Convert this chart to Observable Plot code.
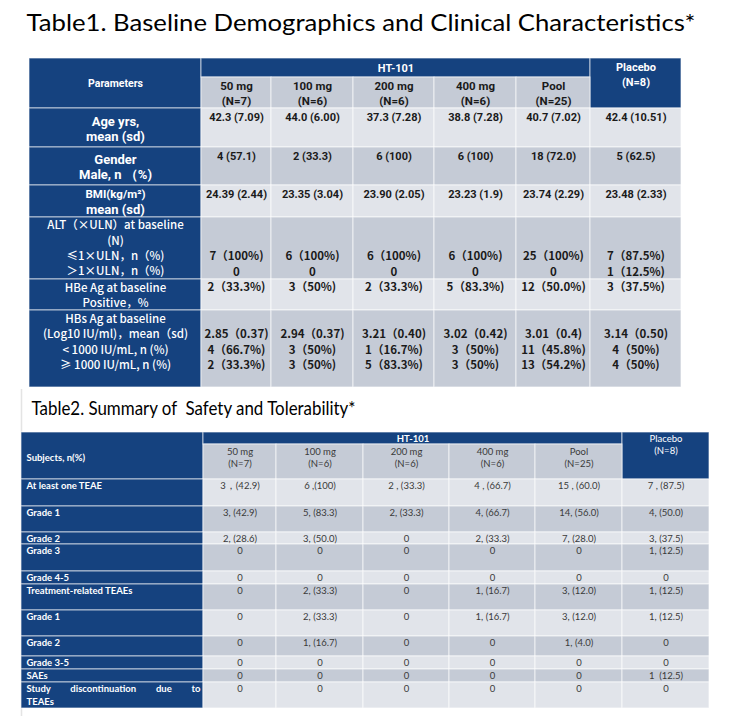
<!DOCTYPE html>
<html>
<head>
<meta charset="utf-8">
<script src="https://cdn.jsdelivr.net/npm/d3@7"></script>
<script src="https://cdn.jsdelivr.net/npm/@observablehq/plot@0.6"></script>
<style>
  html, body { margin: 0; padding: 0; background: #ffffff; }
  #chart svg { display: block; }
</style>
</head>
<body>
<div id="chart"></div>
<script>
// ================= DATA =================
const title1 = "Table1. Baseline Demographics and Clinical Characteristics*";
const title2 = "Table2. Summary of  Safety and Tolerability*";

const groupLabel = "HT-101";
const doseGroups = ["50 mg", "100 mg", "200 mg", "400 mg", "Pool"];
const groupN = ["(N=7)", "(N=6)", "(N=6)", "(N=6)", "(N=25)"];
const placeboLabel = "Placebo";
const placeboN = "(N=8)";

// ---- Table 1 ----
const t1HeaderLabel = "Parameters";
const t1Params = [
  ["Age yrs,", "mean (sd)"],
  ["Gender", "Male, n （%)"],
  ["BMI(kg/m²)", "mean (sd)"],
  ["ALT（×ULN）at baseline", "(N)", "≤1×ULN，n（%)", "＞1×ULN，n（%)"],
  ["HBe Ag at baseline", "Positive，%"],
  ["HBs Ag at baseline", "(Log10 IU/ml)，mean（sd)", "< 1000 IU/mL, n (%)", "≥ 1000 IU/mL, n (%)"]
];
// columns: 50 mg, 100 mg, 200 mg, 400 mg, Pool, Placebo
const t1Age      = ["42.3 (7.09)", "44.0 (6.00)", "37.3 (7.28)", "38.8 (7.28)", "40.7 (7.02)", "42.4 (10.51)"];
const t1Gender   = ["4 (57.1)", "2 (33.3)", "6 (100)", "6 (100)", "18 (72.0)", "5 (62.5)"];
const t1BMI      = ["24.39 (2.44)", "23.35 (3.04)", "23.90 (2.05)", "23.23 (1.9)", "23.74 (2.29)", "23.48 (2.33)"];
const t1ALTle1   = ["7（100%)", "6（100%)", "6（100%)", "6（100%)", "25（100%)", "7（87.5%)"];
const t1ALTgt1   = ["0", "0", "0", "0", "0", "1（12.5%)"];
const t1HBe      = ["2（33.3%)", "3（50%)", "2（33.3%)", "5（83.3%)", "12（50.0%)", "3（37.5%)"];
const t1HBsMean  = ["2.85（0.37)", "2.94（0.37)", "3.21（0.40)", "3.02（0.42)", "3.01（0.4)", "3.14（0.50)"];
const t1HBsLt    = ["4（66.7%)", "3（50%)", "1（16.7%)", "3（50%)", "11（45.8%)", "4（50%)"];
const t1HBsGe    = ["2（33.3%)", "3（50%)", "5（83.3%)", "3（50%)", "13（54.2%)", "4（50%)"];
const t1Values = [[t1Age], [t1Gender], [t1BMI], [t1ALTle1, t1ALTgt1], [t1HBe], [t1HBsMean, t1HBsLt, t1HBsGe]];

// ---- Table 2 ----
const t2HeaderLabel = "Subjects, n(%)";
const t2Rows = ["At least one TEAE", "Grade 1", "Grade 2", "Grade 3", "Grade 4-5",
  "Treatment-related TEAEs", "Grade 1", "Grade 2", "Grade 3-5", "SAEs",
  ["Study discontinuation due to", "TEAEs"]];
const t2Dose50  = ["3，(42.9)", "3, (42.9)", "2, (28.6)", "0", "0", "0", "0", "0", "0", "0", "0"];
const t2Dose100 = ["6 ,(100)", "5, (83.3)", "3, (50.0)", "0", "0", "2, (33.3)", "2, (33.3)", "1, (16.7)", "0", "0", "0"];
const t2Dose200 = ["2 , (33.3)", "2, (33.3)", "0", "0", "0", "0", "0", "0", "0", "0", "0"];
const t2Dose400 = ["4 , (66.7)", "4, (66.7)", "2, (33.3)", "0", "0", "1, (16.7)", "1, (16.7)", "0", "0", "0", "0"];
const t2Pool    = ["15 , (60.0)", "14, (56.0)", "7, (28.0)", "0", "0", "3, (12.0)", "3, (12.0)", "1, (4.0)", "0", "0", "0"];
const t2Placebo = ["7 , (87.5)", "4, (50.0)", "3, (37.5)", "1, (12.5)", "0", "1, (12.5)", "1, (12.5)", "0", "0", "1  (12.5)", "0"];
const t2Columns = [t2Dose50, t2Dose100, t2Dose200, t2Dose400, t2Pool, t2Placebo];

// ================= LAYOUT / STYLE =================
const W = 746, H = 724;
const BLUE = "#15427f", LIGHT = "#e1e4ea", DARK = "#c5cbd6";
const TXT1 = "#1a1a1a", TXT2 = "#3a3a3a";
const LATO = "Lato, 'Noto Sans', sans-serif";
const ROBOTO = "Roboto, Lato, sans-serif";
const CJK = "'Noto Sans CJK SC', 'Noto Sans', sans-serif";

const L1 = {
  cols: [29, 201, 271, 353, 434, 516, 590, 681],
  head: [58, 77, 108],
  rows: [108, 147, 185, 217, 279, 310, 387],
  paramY: [[13, 28], [12, 27], [9, 24], [8, 23.5, 38.5, 53.5], [8.5, 24], [8.5, 24, 39.5, 55]],
  valueY: [[9], [9], [9], [39, 55], [8], [24, 39.5, 55]],
  paramSize: [[13, 13], [13, 13], [11.5, 13], [11.5, 11.5, 11.5, 11.5], [11.5, 11.5], [11.5, 11.5, 11.5, 11.5]]
};
const L2 = {
  cols: [21, 203, 276, 363, 449, 535, 622, 709],
  head: [432, 444, 479],
  rows: [479, 506, 532, 544, 571, 584, 610, 636, 656, 669, 682, 708],
  textDy: 6.5, lineGap: 12.5
};

// ================= BUILD =================
const cells = [];
const texts = [];
const mid = (a, b) => (a + b) / 2;
function cell(x1, x2, y1, y2, fill) { cells.push({x1, x2, y1, y2, fill}); }
function label(x, y, text, fill, size, family, weight, anchor = "middle") {
  texts.push({x, y, text, fill, size, family, weight, anchor});
}

// Titles
label(26, 23.3, title1, "#000000", 23, LATO, "normal", "start");
label(31, 408, title2, "#000000", 20, LATO, "normal", "start");

// ---- Table 1 cells ----
{
  const c = L1.cols, h = L1.head;
  cell(c[0], c[1], h[0], h[2], BLUE);                 // Parameters
  cell(c[1], c[6], h[0], h[1], BLUE);                 // HT-101
  cell(c[6], c[7], h[0], h[2], BLUE);                 // Placebo
  for (let j = 1; j < 6; j++) cell(c[j], c[j + 1], h[1], h[2], DARK);
  label(mid(c[0], c[1]), 83.5, t1HeaderLabel, "#ffffff", 10.5, ROBOTO, "bold");
  label(mid(c[1], c[6]), 67.5, groupLabel, "#ffffff", 11, ROBOTO, "bold");
  label(mid(c[6], c[7]), 67, placeboLabel, "#ffffff", 11, ROBOTO, "bold");
  label(mid(c[6], c[7]), 82, placeboN, "#ffffff", 11, ROBOTO, "bold");
  doseGroups.forEach((g, j) => {
    label(mid(c[j + 1], c[j + 2]), 86, g, TXT1, 11.5, ROBOTO, "bold");
    label(mid(c[j + 1], c[j + 2]), 101, groupN[j], TXT1, 11.5, ROBOTO, "bold");
  });
  t1Params.forEach((lines, i) => {
    const y1 = L1.rows[i], y2 = L1.rows[i + 1];
    cell(c[0], c[1], y1, y2, BLUE);
    for (let j = 1; j < 7; j++) cell(c[j], c[j + 1], y1, y2, i % 2 === 0 ? LIGHT : DARK);
    const cjk = i >= 3;
    lines.forEach((t, k) => label(mid(c[0], c[1]), y1 + L1.paramY[i][k], t, "#ffffff",
      L1.paramSize[i][k], cjk ? CJK : ROBOTO, cjk ? "500" : "bold"));
    t1Values[i].forEach((vals, k) => vals.forEach((v, j) =>
      label(mid(c[j + 1], c[j + 2]), y1 + L1.valueY[i][k], v, TXT1,
        cjk ? 11.5 : 11, cjk ? CJK : ROBOTO, "bold")));
  });
}

// ---- Table 2 cells ----
{
  const c = L2.cols, h = L2.head;
  cell(c[0], c[1], h[0], h[2], BLUE);
  cell(c[1], c[6], h[0], h[1], BLUE);
  cell(c[6], c[7], h[0], h[2], BLUE);
  for (let j = 1; j < 6; j++) cell(c[j], c[j + 1], h[1], h[2], DARK);
  label(26, 457, t2HeaderLabel, "#ffffff", 9.5, LATO, "bold", "start");
  label(mid(c[1], c[6]), 438.5, groupLabel, "#ffffff", 9.5, LATO, "bold");
  label(mid(c[6], c[7]), 438.5, placeboLabel, "#ffffff", 9.5, LATO, "normal");
  label(mid(c[6], c[7]), 450.5, placeboN, "#ffffff", 9.5, LATO, "normal");
  doseGroups.forEach((g, j) => {
    label(mid(c[j + 1], c[j + 2]), 451, g, TXT2, 9.5, LATO, "normal");
    label(mid(c[j + 1], c[j + 2]), 463, groupN[j], TXT2, 9.5, LATO, "normal");
  });
  t2Rows.forEach((r, i) => {
    const y1 = L2.rows[i], y2 = L2.rows[i + 1];
    cell(c[0], c[1], y1, y2, BLUE);
    for (let j = 1; j < 7; j++) cell(c[j], c[j + 1], y1, y2, i % 2 === 0 ? LIGHT : DARK);
    const lines = Array.isArray(r) ? r : [r];
    lines.forEach((t, k) => label(26, y1 + L2.textDy + k * L2.lineGap, t, "#ffffff", 9.5, LATO, "bold", "start"));
    t2Columns.forEach((col, j) => label(mid(c[j + 1], c[j + 2]), y1 + L2.textDy, col[i], TXT2, 9.5, LATO, "normal"));
  });
}

// ================= PLOT =================
const groups = d3.groups(texts, d => [d.family, d.weight, d.anchor].join("|"));
const chart = Plot.plot({
  width: W,
  height: H,
  margin: 0,
  x: {domain: [0, W], range: [0, W], axis: null},
  y: {domain: [0, H], range: [0, H], axis: null},
  color: {type: "identity"},
  style: {background: "#ffffff", overflow: "visible"},
  marks: [
    Plot.ruleX([21], {y1: 389, y2: 716, stroke: "#e4e4e4", strokeWidth: 1.5}),
    Plot.rect(cells, {x1: "x1", x2: "x2", y1: "y1", y2: "y2", fill: "fill",
      stroke: "#ffffff", strokeOpacity: 0.65, strokeWidth: 1}),
    ...groups.map(([key, arr]) => {
      const [family, weight, anchor] = key.split("|");
      return Plot.text(arr, {x: "x", y: "y", text: "text", fill: "fill", fontSize: "size",
        fontFamily: family, fontWeight: weight, textAnchor: anchor});
    })
  ]
});
document.getElementById("chart").appendChild(chart);

// Fit titles to the reference widths and justify the wrapped label
const svg = d3.select(chart);
svg.selectAll("text").each(function () {
  const t = this.textContent;
  if (t === title1) d3.select(this).attr("textLength", 669).attr("lengthAdjust", "spacingAndGlyphs");
  if (t === title2) d3.select(this).attr("textLength", 324).attr("lengthAdjust", "spacingAndGlyphs");
  if (t === "Study discontinuation due to") {
    const len = this.getComputedTextLength();
    const gaps = t.split(" ").length - 1;
    d3.select(this).style("word-spacing", ((174 - len) / gaps) + "px");
  }
});
</script>
</body>
</html>
